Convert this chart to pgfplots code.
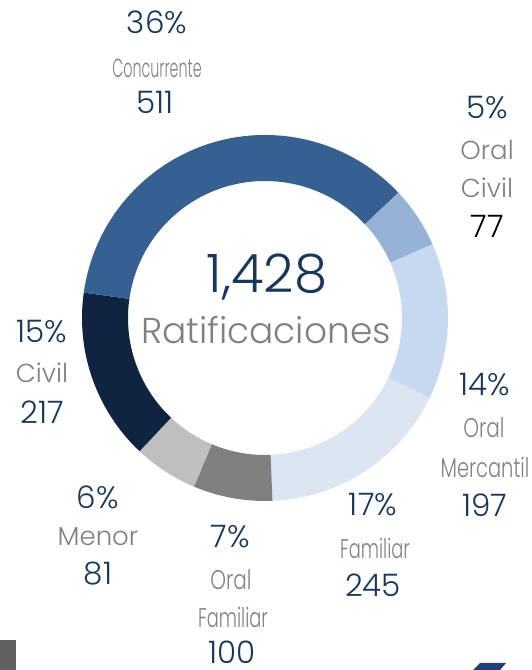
\documentclass[border=0pt]{standalone}
\usepackage{fontspec}
\setmainfont{Poppins}[UprightFont={* Light}]
\usepackage{graphicx}
\usepackage{pgfplots}
\pgfplotsset{compat=1.18}
\usetikzlibrary{calc}
\definecolor{cConc}{HTML}{376092}
\definecolor{cOCiv}{HTML}{95B3D7}
\definecolor{cOMer}{HTML}{C6D9F1}
\definecolor{cFam}{HTML}{DCE6F2}
\definecolor{cOFam}{HTML}{808080}
\definecolor{cMen}{HTML}{BFBFBF}
\definecolor{cCiv}{HTML}{10243F}
\definecolor{navy}{HTML}{17375E}
\definecolor{gtxt}{HTML}{808080}
\definecolor{logo}{HTML}{1F3F7A}
% data
\def\vConc{511}\def\vOCiv{77}\def\vOMer{197}\def\vFam{245}\def\vOFam{100}\def\vMen{81}\def\vCiv{217}
\pgfmathsetmacro\total{\vConc+\vOCiv+\vOMer+\vFam+\vOFam+\vMen+\vCiv}
\pgfmathsetmacro\aA{172}
\pgfmathsetmacro\aB{\aA-\vConc/\total*360}
\pgfmathsetmacro\aC{\aB-\vOCiv/\total*360}
\pgfmathsetmacro\aD{\aC-\vOMer/\total*360}
\pgfmathsetmacro\aE{\aD-\vFam/\total*360}
\pgfmathsetmacro\aF{\aE-\vOFam/\total*360}
\pgfmathsetmacro\aG{\aF-\vMen/\total*360}
\pgfmathsetmacro\aH{\aG-\vCiv/\total*360}
\newcommand\ring[3]{\fill[#3] ($(axis cs:265,352)+(#1:183pt)$) arc[start angle=#1,end angle=#2,radius=183pt] -- ($(axis cs:265,352)+(#2:137pt)$) arc[start angle=#2,end angle=#1,radius=137pt] -- cycle;}
\newcommand\pc[1]{{\fontsize{31}{31}\selectfont\color{navy}#1}}
\newcommand\gl[1]{{\fontsize{26}{26}\selectfont\color{gtxt}#1}}
\newcommand\cl[2]{{\fontsize{27}{27}\selectfont\color{gtxt}\scalebox{#1}[1]{#2}}}
\begin{document}
\begin{tikzpicture}
\useasboundingbox (0,0) rectangle (531pt,670pt);
\begin{axis}[x=1pt,y=1pt,xmin=0,xmax=531,ymin=0,ymax=670,hide axis,clip=false,anchor=south west,at={(0,0)}]
\addplot[draw=none] coordinates {(0,0)};
\ring{\aA}{\aB}{cConc}
\ring{\aB}{\aC}{cOCiv}
\ring{\aC}{\aD}{cOMer}
\ring{\aD}{\aE}{cFam}
\ring{\aE}{\aF}{cOFam}
\ring{\aF}{\aG}{cMen}
\ring{\aG}{\aH}{cCiv}
% center
\node at (axis cs:267,393) {\fontsize{53}{53}\selectfont\color{navy}1,428};
\node at (axis cs:266,340) {\fontsize{36}{36}\selectfont\color{gtxt}Ratificaciones};
% Concurrente
\node at (axis cs:157,648) {\pc{36\%}};
\node at (axis cs:157,602) {{\fontsize{26}{26}\selectfont\color{gtxt}\scalebox{0.55}[1]{Concurrente}}};
\node at (axis cs:155,568) {\pc{511}};
% Oral Civil
\node at (axis cs:487,562) {\pc{5\%}};
\node at (axis cs:487,520) {\gl{Oral}};
\node at (axis cs:487,482) {\gl{Civil}};
\node at (axis cs:487,444) {\fontsize{31}{31}\selectfont\color{black}77};
% Oral Mercantil
\node at (axis cs:485,285) {\pc{14\%}};
\node at (axis cs:484,242) {\cl{0.74}{Oral}};
\node at (axis cs:485,203) {\cl{0.72}{Mercantil}};
\node at (axis cs:485,165) {\pc{197}};
% Familiar
\node at (axis cs:373,165) {\pc{17\%}};
\node at (axis cs:375,122) {\cl{0.66}{Familiar}};
\node at (axis cs:373,85) {\pc{245}};
% Oral Familiar
\node at (axis cs:230,133) {\pc{7\%}};
\node at (axis cs:231,90) {\cl{0.74}{Oral}};
\node at (axis cs:233,53) {\cl{0.66}{Familiar}};
\node[inner sep=0pt,anchor=base] at (axis cs:232,6) {\pc{100}};
% Menor
\node at (axis cs:98,173) {\pc{6\%}};
\node at (axis cs:98,133) {\gl{Menor}};
\node at (axis cs:98,96) {\pc{81}};
% Civil
\node at (axis cs:42,338) {\pc{15\%}};
\node at (axis cs:42,297) {\gl{Civil}};
\node at (axis cs:42,258) {\pc{217}};
% bottom artifacts
\fill[black!62] (axis cs:0,0) rectangle (axis cs:16,30);
\fill[logo] (axis cs:473,0) -- (axis cs:480,7) -- (axis cs:506,7) -- (axis cs:500,0) -- cycle;
\end{axis}
\end{tikzpicture}
\end{document}
